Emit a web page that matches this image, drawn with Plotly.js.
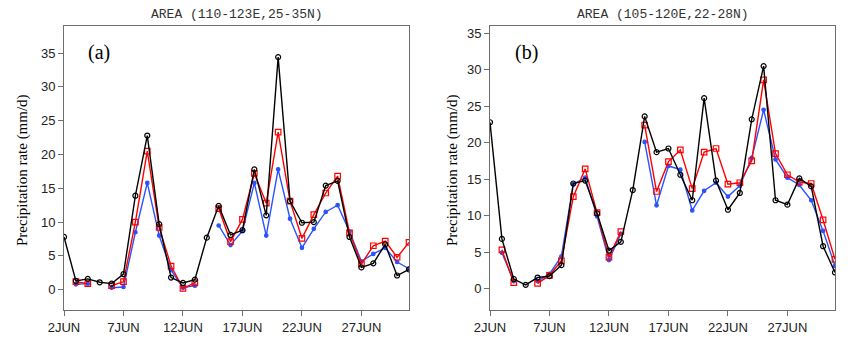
<!DOCTYPE html>
<html>
<head>
<meta charset="utf-8">
<script src="https://cdn.plot.ly/plotly-3.0.1.min.js"></script>
<style>html,body{margin:0;padding:0;background:#fff;}#chart{width:861px;height:341px;}</style>
</head>
<body>
<div id="chart"></div>
<script>
// Days of June (31 = 1 July)
const days = [2,3,4,5,6,7,8,9,10,11,12,13,14,15,16,17,18,19,20,21,22,23,24,25,26,27,28,29,30,31];
const tickVals = [2,7,12,17,22,27];
const tickText = ["2JUN","7JUN","12JUN","17JUN","22JUN","27JUN"];

// Panel (a): AREA (110-123E,25-35N)
const blackA = [7.8,1.3,1.6,1.1,0.9,2.3,13.9,22.8,9.7,1.8,1.0,1.5,7.7,12.4,8.1,8.8,17.8,11.0,34.4,13.1,9.9,10.0,15.4,16.1,7.8,3.3,3.9,6.7,2.1,3.0];
const redA   = [null,1.2,0.9,null,0.6,1.2,10.0,20.5,9.2,3.5,0.2,1.0,null,12.0,7.1,10.4,17.2,12.8,23.3,13.1,7.6,11.1,14.3,16.8,8.4,3.8,6.5,7.2,4.8,7.0];
const blueA  = [null,0.8,0.9,null,0.3,0.4,8.5,15.8,8.0,2.9,0.3,0.6,null,9.5,6.6,8.7,15.8,8.0,17.8,10.5,6.2,9.0,11.5,12.5,8.6,4.2,5.3,6.2,4.1,3.1];

// Panel (b): AREA (105-120E,22-28N)
const blackB = [22.8,6.8,1.3,0.5,1.5,1.7,3.2,14.4,14.8,10.3,5.2,6.4,13.5,23.6,18.7,19.2,15.6,12.1,26.1,14.8,10.8,13.1,23.2,30.5,12.1,11.5,15.1,14.0,5.8,2.2];
const redB   = [null,5.3,0.8,null,0.7,1.8,3.8,12.6,16.4,10.4,4.3,7.8,null,22.4,13.3,17.4,19.0,13.7,18.7,19.2,14.3,14.5,17.5,28.6,18.5,15.6,14.6,14.4,9.4,4.0];
const blueB  = [null,4.9,1.0,null,1.0,2.0,4.4,14.3,15.2,9.9,3.9,7.5,null,20.1,11.4,16.8,16.3,10.7,13.4,14.5,12.6,14.1,17.9,24.5,17.7,15.2,14.2,12.1,7.9,3.1];

const titles = ["AREA (110-123E,25-35N)", "AREA (105-120E,22-28N)"];
const panelLabels = ["(a)", "(b)"];
const yTitle = "Precipitation rate (mm/d)";

const W = 861, H = 341;
const px = v => v / W;
const py = v => (H - v) / H;

function series(x, y, color, symbol, size, xa, ya) {
  return {
    x: x, y: y, xaxis: xa, yaxis: ya, type: 'scatter', mode: 'lines+markers',
    connectgaps: false, showlegend: false,
    line: {color: color, width: 1.4},
    marker: {symbol: symbol, size: size, color: color, line: {color: color, width: 1.2}}
  };
}

const blue = '#2a52ff', red = '#ff0000', black = '#000000';
const data = [
  series(days, blueA, blue, 'circle', 3.5, 'x', 'y'),
  series(days, redA, red, 'square-open', 5.5, 'x', 'y'),
  series(days, blackA, black, 'circle-open', 5, 'x', 'y'),
  series(days, blueB, blue, 'circle', 3.5, 'x2', 'y2'),
  series(days, redB, red, 'square-open', 5.5, 'x2', 'y2'),
  series(days, blackB, black, 'circle-open', 5, 'x2', 'y2')
];

const axisLine = '#6e6e6e';
const tickFont = {family: 'Liberation Sans, Arial, sans-serif', size: 13, color: '#222'};
function xAxis(domain, anchor) {
  return {
    domain: domain, anchor: anchor, range: [2, 31], tickmode: 'array',
    tickvals: tickVals, ticktext: tickText, ticks: 'outside', ticklen: 5,
    tickcolor: axisLine, showline: true, linecolor: axisLine, linewidth: 1,
    mirror: true, showgrid: false, zeroline: false, tickfont: tickFont
  };
}
function yAxis(range, anchor) {
  return {
    domain: [py(310), py(26)], anchor: anchor, range: range, tickmode: 'array',
    tickvals: [0,5,10,15,20,25,30,35], ticks: 'outside', ticklen: 5,
    tickcolor: axisLine, showline: true, linecolor: axisLine, linewidth: 1,
    mirror: true, showgrid: false, zeroline: false, tickfont: tickFont
  };
}

const layout = {
  width: W, height: H,
  margin: {l: 0, r: 0, t: 0, b: 0},
  paper_bgcolor: '#fff', plot_bgcolor: '#fff',
  xaxis: xAxis([px(64), px(409)], 'y'),
  yaxis: yAxis([-3, 39], 'x'),
  xaxis2: xAxis([px(490), px(835)], 'y2'),
  yaxis2: yAxis([-2.95, 36], 'x2'),
  annotations: [
    {text: titles[0], xref: 'paper', yref: 'paper', x: px(236.5), y: py(15), showarrow: false,
     xanchor: 'center', yanchor: 'middle', font: {family: 'Liberation Mono, DejaVu Sans Mono, monospace', size: 13, color: '#333'}},
    {text: titles[1], xref: 'paper', yref: 'paper', x: px(662.5), y: py(15), showarrow: false,
     xanchor: 'center', yanchor: 'middle', font: {family: 'Liberation Mono, DejaVu Sans Mono, monospace', size: 13, color: '#333'}},
    {text: panelLabels[0], xref: 'paper', yref: 'paper', x: px(86), y: py(53), showarrow: false,
     xanchor: 'left', yanchor: 'middle', font: {family: 'Liberation Serif, Times New Roman, serif', size: 20, color: '#000'}},
    {text: panelLabels[1], xref: 'paper', yref: 'paper', x: px(513), y: py(53), showarrow: false,
     xanchor: 'left', yanchor: 'middle', font: {family: 'Liberation Serif, Times New Roman, serif', size: 20, color: '#000'}},
    {text: yTitle, xref: 'paper', yref: 'paper', x: px(22), y: py(170), showarrow: false, textangle: -90,
     xanchor: 'center', yanchor: 'middle', font: {family: 'Liberation Serif, Times New Roman, serif', size: 15, color: '#000'}},
    {text: yTitle, xref: 'paper', yref: 'paper', x: px(452), y: py(170), showarrow: false, textangle: -90,
     xanchor: 'center', yanchor: 'middle', font: {family: 'Liberation Serif, Times New Roman, serif', size: 15, color: '#000'}}
  ]
};

Plotly.newPlot('chart', data, layout, {staticPlot: true, displayModeBar: false});
</script>
</body>
</html>
